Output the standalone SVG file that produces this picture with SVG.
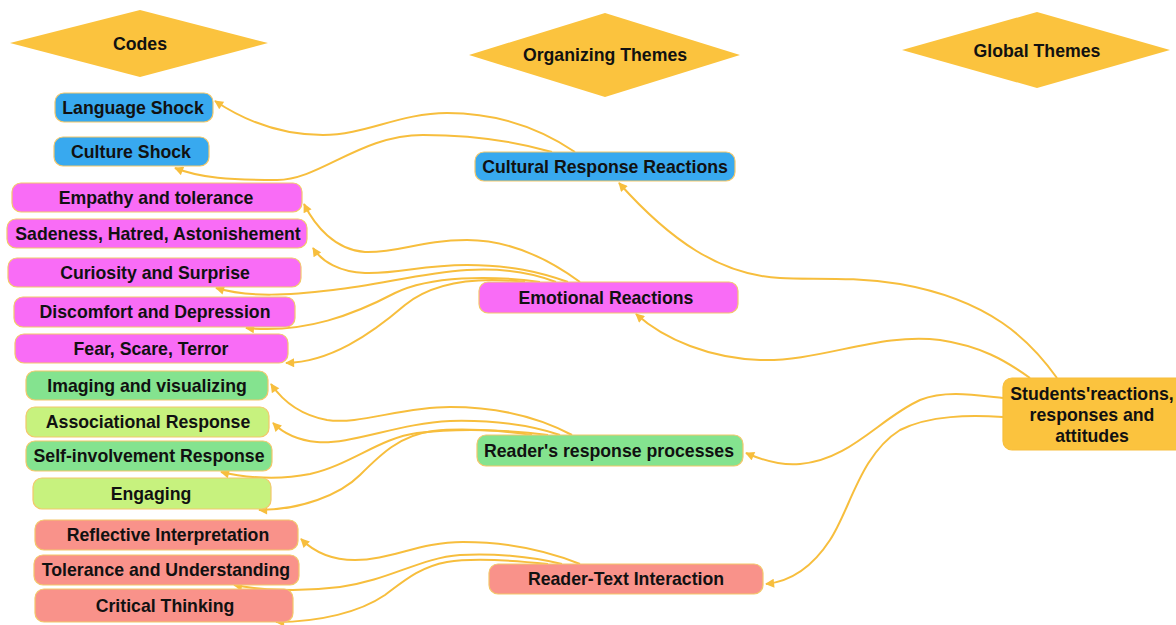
<svg xmlns="http://www.w3.org/2000/svg" width="1176" height="625" viewBox="0 0 1176 625">
  <defs>
    <marker id="arrow" viewBox="0 0 10 10" refX="9" refY="5" markerWidth="10" markerHeight="9" markerUnits="userSpaceOnUse" orient="auto">
      <path d="M0,0 L10,5 L0,10 z" fill="#F7BE3D"/>
    </marker>
    <style>
      text { font-family: "Liberation Sans", Arial, sans-serif; font-weight: bold; font-size: 17.7px; fill: #111111; text-anchor: middle; }
      .head { fill: #FBC33E; }
      .node { stroke: #F3C76A; stroke-width: 1.2; }
      .blue { fill: #38A9EF; }
      .pink { fill: #F96CF6; }
      .green { fill: #84E38F; }
      .lime { fill: #C7F27E; }
      .salmon { fill: #F9928A; }
      .gold { fill: #FBC33E; stroke: #F7BE3D; }
      .conn path { fill: none; stroke: #F7BE3D; stroke-width: 2; marker-end: url(#arrow); }
    </style>
  </defs>
  <rect width="1176" height="625" fill="#FFFFFF"/>

  <!-- column headings -->
  <g id="head-codes">
    <polygon class="head" points="10,43 140,10 268,43 140,77"/>
    <text x="140" y="50">Codes</text>
  </g>
  <g id="head-organizing">
    <polygon class="head" points="469,55 605,13 740,55 605,97"/>
    <text x="605" y="61">Organizing Themes</text>
  </g>
  <g id="head-global">
    <polygon class="head" points="902,50 1037,12 1170,50 1037,88"/>
    <text x="1037" y="57">Global Themes</text>
  </g>

  <!-- connectors -->
  <g id="connectors" class="conn">
    <!-- cultural -->
    <path d="M575,152 C535,125 490,113 447,113 C400,113 365,135 323,135 C280,135 245,121 215,101"/>
    <path d="M552,152 C510,140 470,135 423,135 C360,135 320,180 277,180 C230,180 200,178 175,168"/>
    <!-- emotional -->
    <path d="M580,282 C550,260 510,240 467,240 C420,240 400,253 365,252 C335,250 315,226 304,204"/>
    <path d="M568,282 C540,272 510,265 467,265 C420,265 400,274 365,273 C340,272 322,262 313,248"/>
    <path d="M556,282 C530,272 500,268 467,270 C420,273 380,285 333,290 C290,295 250,298 216,288"/>
    <path d="M540,282 C490,275 430,276 395,293 C355,314 305,334 246,328"/>
    <path d="M525,282 C470,276 430,285 405,305 C370,335 330,362 286,363"/>
    <!-- reader's response -->
    <path d="M572,435 C540,418 500,407 450,407 C400,407 360,425 327,420 C300,415 282,400 271,384"/>
    <path d="M560,435 C530,425 490,420 450,421 C400,423 350,445 317,442 C295,440 282,432 273,423"/>
    <path d="M548,435 C510,430 460,428 417,433 C380,438 350,465 310,474 C280,480 245,478 221,472"/>
    <path d="M532,435 C500,430 460,428 433,431 C400,435 380,455 360,475 C340,495 300,510 259,510"/>
    <!-- reader-text -->
    <path d="M580,564 C550,552 510,542 463,542 C420,542 390,560 355,560 C330,560 312,550 301,539"/>
    <path d="M562,564 C530,556 490,553 460,555 C420,558 390,580 340,587 C300,592 260,590 234,585"/>
    <path d="M548,564 C510,560 470,558 447,562 C420,567 405,580 385,595 C360,612 320,622 276,622"/>
    <!-- global theme to organizing themes -->
    <path d="M1057,378 C1030,340 990,300 900,284 C850,276 810,280 780,278 C720,275 670,240 619,183"/>
    <path d="M1030,378 C1005,360 980,346 940,340 C880,332 820,362 760,360 C710,358 665,340 636,314"/>
    <path d="M1003,398 C975,395 945,390 920,400 C880,418 850,460 800,464 C780,466 762,460 746,453"/>
    <path d="M1003,417 C970,415 930,415 900,430 C860,455 850,510 830,540 C815,563 795,581 766,584"/>
  </g>

  <!-- codes -->
  <g id="code-language-shock">
    <rect class="node blue" x="55" y="93" width="158" height="29" rx="9"/>
    <text x="133" y="114">Language Shock</text>
  </g>
  <g id="code-culture-shock">
    <rect class="node blue" x="54" y="137" width="155" height="29" rx="9"/>
    <text x="131" y="158">Culture Shock</text>
  </g>
  <g id="code-empathy">
    <rect class="node pink" x="12" y="183" width="290" height="29" rx="9"/>
    <text x="156" y="204">Empathy and tolerance</text>
  </g>
  <g id="code-sadeness">
    <rect class="node pink" x="7" y="219" width="300" height="29" rx="9"/>
    <text x="158" y="240">Sadeness, Hatred, Astonishement</text>
  </g>
  <g id="code-curiosity">
    <rect class="node pink" x="8" y="258" width="293" height="29" rx="9"/>
    <text x="155" y="279">Curiosity and Surprise</text>
  </g>
  <g id="code-discomfort">
    <rect class="node pink" x="14" y="297" width="281" height="30" rx="9"/>
    <text x="155" y="318">Discomfort and Depression</text>
  </g>
  <g id="code-fear">
    <rect class="node pink" x="15" y="334" width="273" height="29" rx="9"/>
    <text x="151" y="355">Fear, Scare, Terror</text>
  </g>
  <g id="code-imaging">
    <rect class="node green" x="26" y="371" width="242" height="29" rx="9"/>
    <text x="147" y="392">Imaging and visualizing</text>
  </g>
  <g id="code-associational">
    <rect class="node lime" x="26" y="407" width="243" height="30" rx="9"/>
    <text x="148" y="428">Associational Response</text>
  </g>
  <g id="code-self-involvement">
    <rect class="node green" x="26" y="441" width="246" height="30" rx="9"/>
    <text x="149" y="462">Self-involvement Response</text>
  </g>
  <g id="code-engaging">
    <rect class="node lime" x="33" y="478" width="238" height="31" rx="9"/>
    <text x="151" y="500">Engaging</text>
  </g>
  <g id="code-reflective">
    <rect class="node salmon" x="35" y="520" width="263" height="30" rx="9"/>
    <text x="168" y="541">Reflective Interpretation</text>
  </g>
  <g id="code-tolerance">
    <rect class="node salmon" x="34" y="555" width="265" height="30" rx="9"/>
    <text x="166" y="576">Tolerance and Understanding</text>
  </g>
  <g id="code-critical">
    <rect class="node salmon" x="35" y="589" width="258" height="33" rx="9"/>
    <text x="165" y="612">Critical Thinking</text>
  </g>

  <!-- organizing themes -->
  <g id="theme-cultural">
    <rect class="node blue" x="475" y="152" width="260" height="29" rx="9"/>
    <text x="605" y="173">Cultural Response Reactions</text>
  </g>
  <g id="theme-emotional">
    <rect class="node pink" x="479" y="282" width="259" height="31" rx="9"/>
    <text x="606" y="304">Emotional Reactions</text>
  </g>
  <g id="theme-reader-response">
    <rect class="node green" x="477" y="435" width="266" height="31" rx="9"/>
    <text x="609" y="457">Reader's response processes</text>
  </g>
  <g id="theme-reader-text">
    <rect class="node salmon" x="489" y="564" width="274" height="30" rx="9"/>
    <text x="626" y="585">Reader-Text Interaction</text>
  </g>

  <!-- global theme -->
  <g id="global-students">
    <rect class="node gold" x="1003" y="378" width="182" height="72" rx="9"/>
    <text x="1092" y="400">Students'reactions,</text>
    <text x="1092" y="421">responses and</text>
    <text x="1092" y="442">attitudes</text>
  </g>
</svg>
